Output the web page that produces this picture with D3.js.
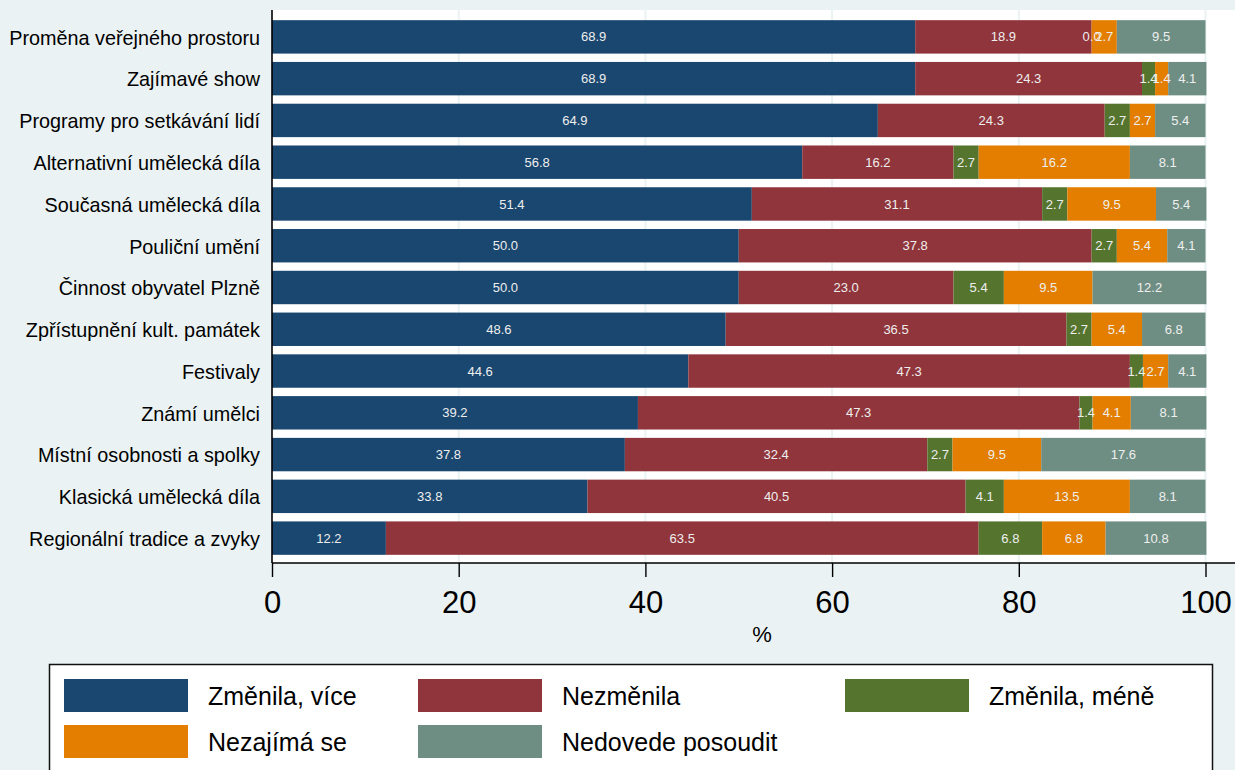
<!DOCTYPE html>
<html>
<head>
<meta charset="utf-8">
<script src="https://cdn.jsdelivr.net/npm/d3@7"></script>
<style>
html,body{margin:0;padding:0;background:#eaf2f3;}
svg{display:block;}
text{font-family:"Liberation Sans",Arial,sans-serif;}
</style>
</head>
<body>
<svg id="chart" width="1235" height="770"></svg>
<script>
const categories = [
  "Proměna veřejného prostoru",
  "Zajímavé show",
  "Programy pro setkávání lidí",
  "Alternativní umělecká díla",
  "Současná umělecká díla",
  "Pouliční umění",
  "Činnost obyvatel Plzně",
  "Zpřístupnění kult. památek",
  "Festivaly",
  "Známí umělci",
  "Místní osobnosti a spolky",
  "Klasická umělecká díla",
  "Regionální tradice a zvyky"
];
const seriesNames = ["Změnila, více", "Nezměnila", "Změnila, méně", "Nezajímá se", "Nedovede posoudit"];
const zmenilaVice    = [68.9, 68.9, 64.9, 56.8, 51.4, 50.0, 50.0, 48.6, 44.6, 39.2, 37.8, 33.8, 12.2];
const nezmenila      = [18.9, 24.3, 24.3, 16.2, 31.1, 37.8, 23.0, 36.5, 47.3, 47.3, 32.4, 40.5, 63.5];
const zmenilaMene    = [0.0, 1.4, 2.7, 2.7, 2.7, 2.7, 5.4, 2.7, 1.4, 1.4, 2.7, 4.1, 6.8];
const nezajimaSe     = [2.7, 1.4, 2.7, 16.2, 9.5, 5.4, 9.5, 5.4, 2.7, 4.1, 9.5, 13.5, 6.8];
const nedovedePosoudit = [9.5, 4.1, 5.4, 8.1, 5.4, 4.1, 12.2, 6.8, 4.1, 8.1, 17.6, 8.1, 10.8];
const xTicks = [0, 20, 40, 60, 80, 100];
const xTitle = "%";

const colors = ["#1a476f", "#90353b", "#55752f", "#e37e00", "#6e8e84"];
const seriesValues = [zmenilaVice, nezmenila, zmenilaMene, nezajimaSe, nedovedePosoudit];

const rows = categories.map((c, i) => {
  const o = {cat: c};
  seriesNames.forEach((s, j) => o[s] = seriesValues[j][i]);
  return o;
});
const stacked = d3.stack().keys(seriesNames)(rows);

const svg = d3.select("#chart");
const plot = {left: 272, right: 1235, top: 10, bottom: 563};

const x = d3.scaleLinear().domain([0, 100]).range([272, 1205.5]);
const y = d3.scaleBand().domain(categories).range([16, 559]).paddingInner(0.2).paddingOuter(0.1);

// plot region
svg.append("rect").attr("x", plot.left).attr("y", plot.top)
  .attr("width", plot.right - plot.left).attr("height", plot.bottom - plot.top)
  .attr("fill", "#ffffff");

// gridlines
svg.append("g").selectAll("line").data(xTicks.filter(d => d > 0)).join("line")
  .attr("x1", d => x(d)).attr("x2", d => x(d))
  .attr("y1", plot.top).attr("y2", plot.bottom)
  .attr("stroke", "#eaf2f3").attr("stroke-width", 2);

// bars
const layers = svg.append("g").selectAll("g").data(stacked).join("g")
  .attr("fill", (d, i) => colors[i]);
layers.selectAll("rect").data(d => d).join("rect")
  .attr("x", d => x(d[0]))
  .attr("width", d => Math.max(0, x(d[1]) - x(d[0])))
  .attr("y", d => y(d.data.cat))
  .attr("height", y.bandwidth());

// bar labels
const lab = svg.append("g");
stacked.forEach((layer) => {
  lab.selectAll(null).data(layer).join("text")
    .attr("x", d => (x(d[0]) + x(d[1])) / 2)
    .attr("y", d => y(d.data.cat) + y.bandwidth() / 2)
    .attr("dy", "0.35em")
    .attr("text-anchor", "middle")
    .attr("fill", "#eeeeee")
    .attr("font-size", "13px")
    .text(d => (d[1] - d[0]).toFixed(1));
});

// y axis
const yAxis = svg.append("g").attr("transform", `translate(${plot.left},1.5)`)
  .call(d3.axisLeft(y).tickSize(0).tickPadding(12));
yAxis.select(".domain").remove();
yAxis.selectAll("text").attr("font-size", "19.8px").attr("fill", "#000")
  .attr("font-family", "Liberation Sans, Arial, sans-serif");
svg.append("line").attr("x1", plot.left).attr("x2", plot.left)
  .attr("y1", plot.top).attr("y2", plot.bottom)
  .attr("stroke", "#000").attr("stroke-width", 1.6);

// x axis
const xAxis = svg.append("g").attr("transform", `translate(0,${plot.bottom})`)
  .call(d3.axisBottom(x).tickValues(xTicks).tickSize(14).tickPadding(14).tickFormat(d3.format("d")));
xAxis.select(".domain").remove();
xAxis.selectAll("line").attr("stroke", "#000").attr("stroke-width", 1.4);
xAxis.selectAll("text").attr("font-size", "31px").attr("fill", "#000")
  .attr("font-family", "Liberation Sans, Arial, sans-serif");
svg.append("line").attr("x1", plot.left).attr("x2", plot.right)
  .attr("y1", plot.bottom).attr("y2", plot.bottom)
  .attr("stroke", "#000").attr("stroke-width", 1.6);

svg.append("text").attr("x", x(52.5)).attr("y", 642)
  .attr("text-anchor", "middle").attr("font-size", "22px").attr("fill", "#000")
  .text(xTitle);

// legend
const lg = svg.append("g");
lg.append("rect").attr("x", 49.5).attr("y", 664.5).attr("width", 1163).attr("height", 120)
  .attr("fill", "#fff").attr("stroke", "#111").attr("stroke-width", 1.5);
const legPos = [
  {sx: 64, ty: 679}, {sx: 418, ty: 679}, {sx: 845, ty: 679},
  {sx: 64, ty: 725}, {sx: 418, ty: 725}
];
seriesNames.forEach((s, i) => {
  const p = legPos[i];
  lg.append("rect").attr("x", p.sx).attr("y", p.ty).attr("width", 124).attr("height", 33)
    .attr("fill", colors[i]);
  lg.append("text").attr("x", p.sx + 144).attr("y", p.ty + 17.5).attr("dy", "0.35em")
    .attr("font-size", "25px").attr("fill", "#000").text(s);
});
</script>
</body>
</html>
